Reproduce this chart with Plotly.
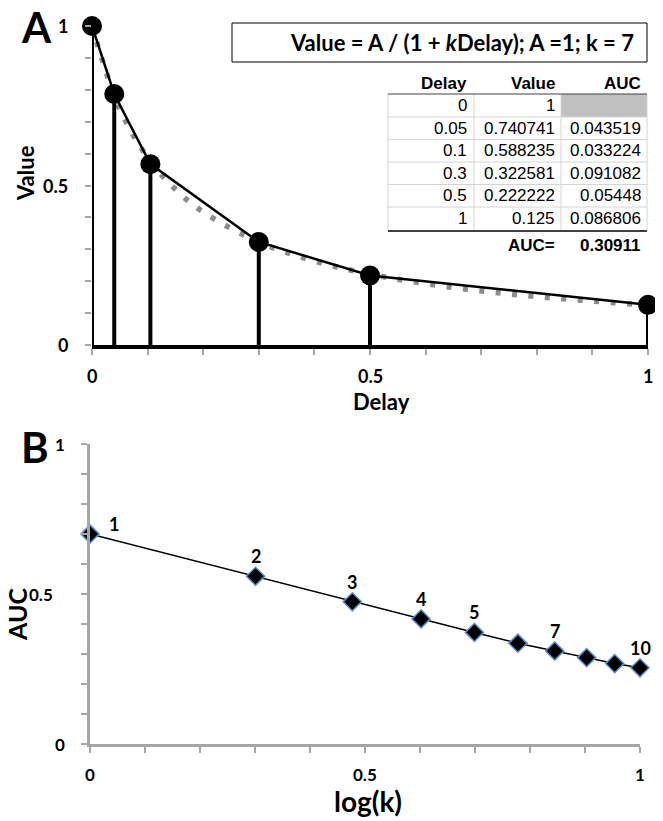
import plotly.graph_objects as go

W, H = 663, 821
OFF = 8  # page body margin


def fx(p):
    return (p - OFF) / W


def fy(p):
    return 1 - (p - OFF) / H


FONT = "Lato"
TFONT = "Liberation Sans"

# ---------------- Panel A data ----------------
delay_pts = [0, 0.04, 0.105, 0.3, 0.5, 1.0]
value_pts = [1.0, 0.787, 0.567, 0.323, 0.218, 0.126]

curve_x = [0, 0.05, 0.1, 0.15, 0.2, 0.3, 0.4, 0.5, 0.65, 0.8, 1.0]
curve_y = [1.0, 0.74, 0.588, 0.488, 0.417, 0.323, 0.263, 0.222, 0.18, 0.152, 0.125]

formula_text = "<b>Value = A / (1 + <i>k</i>Delay); A =1; k = 7</b>"

tbl_header = ["Delay", "Value", "AUC"]
tbl_delay = ["0", "0.05", "0.1", "0.3", "0.5", "1"]
tbl_value = ["1", "0.740741", "0.588235", "0.322581", "0.222222", "0.125"]
tbl_auc = ["", "0.043519", "0.033224", "0.091082", "0.05448", "0.086806"]
auc_label = "AUC="
auc_total = "0.30911"

tick_vals = [0, 0.5, 1]
tick_text = ["0", "0.5", "1"]

# ---------------- Panel B data ----------------
log_k = [0, 0.301, 0.477, 0.602, 0.699, 0.778, 0.845, 0.903, 0.954, 1.0]
auc_b = [0.70, 0.559, 0.474, 0.417, 0.372, 0.336, 0.310, 0.288, 0.268, 0.254]
k_labels = ["1", "2", "3", "4", "5", "", "7", "", "", "10"]

fig = go.Figure()

# gray dotted hyperbola
fig.add_trace(go.Scatter(
    x=curve_x, y=curve_y, mode="lines", line_shape="spline",
    line=dict(color="#8c8c8c", width=5.5, dash="5px,11.5px"),
    xaxis="x", yaxis="y", hoverinfo="skip", showlegend=False))

# stems (drop lines)
fig.add_trace(go.Scatter(
    x=delay_pts, y=value_pts, mode="markers",
    marker=dict(size=1, color="rgba(0,0,0,0)"),
    error_y=dict(type="data", symmetric=False, array=[0] * len(value_pts),
                 arrayminus=value_pts, thickness=4, width=0, color="black"),
    xaxis="x", yaxis="y", showlegend=False, hoverinfo="skip"))

# connecting line + markers
fig.add_trace(go.Scatter(
    x=delay_pts, y=value_pts, mode="lines+markers",
    line=dict(color="black", width=2.5),
    marker=dict(size=20, color="black"),
    xaxis="x", yaxis="y", showlegend=False, cliponaxis=False))

# Panel B line with diamonds
fig.add_trace(go.Scatter(
    x=log_k, y=auc_b, mode="lines+markers",
    line=dict(color="black", width=1.5),
    marker=dict(symbol="diamond", size=14, color="black",
                line=dict(color="#5b8fcf", width=1.5)),
    xaxis="x2", yaxis="y2", showlegend=False, cliponaxis=False))

GRAY = "#a6a6a6"

annotations = []
shapes = []


def pann(xp, yp, text, size, family=FONT, xanchor="center", angle=0):
    annotations.append(dict(x=fx(xp), y=fy(yp), xref="paper", yref="paper", text=text,
                            xanchor=xanchor, yanchor="middle", textangle=angle,
                            showarrow=False, font=dict(family=family, size=size, color="black")))


# tick labels (as annotations tied to the axes)
b_y_label_right = [67, 55, 67]
for v, t, bx in zip(tick_vals, tick_text, b_y_label_right):
    annotations.append(dict(x=v, xref="x", y=fy(376), yref="paper", text="<b>%s</b>" % t,
                            xanchor="center", yanchor="middle", showarrow=False,
                            font=dict(family=FONT, size=18, color="black")))
    annotations.append(dict(x=fx(70), xref="paper", y=v, yref="y", text="<b>%s</b>" % t,
                            xanchor="right", yanchor="middle", showarrow=False,
                            font=dict(family=FONT, size=18, color="black")))
    annotations.append(dict(x=v, xref="x2", y=fy(774), yref="paper", text="<b>%s</b>" % t,
                            xanchor="center", yanchor="middle", showarrow=False,
                            font=dict(family=FONT, size=17, color="black")))
    annotations.append(dict(x=fx(bx), xref="paper", y=v, yref="y2", text="<b>%s</b>" % t,
                            xanchor="right", yanchor="middle", showarrow=False,
                            font=dict(family=FONT, size=17, color="black")))

# point labels in B
for xi, yi, lab in zip(log_k, auc_b, k_labels):
    if not lab:
        continue
    first = lab == k_labels[0]
    annotations.append(dict(
        x=xi, y=yi, xref="x2", yref="y2", text="<b>%s</b>" % lab,
        xanchor="center", yanchor="middle",
        showarrow=False, font=dict(family=FONT, size=18, color="black"),
        xshift=24 if first else 0, yshift=10 if first else 20))

# panel letters
pann(36, 27, "<b>A</b>", 42)
pann(35, 447, "<b>B</b>", 42)

# axis titles
pann(25, 173, "<b>Value</b>", 22, angle=-90)
pann(381, 402, "<b>Delay</b>", 22)
pann(17, 615, "<b>AUC</b>", 25, angle=-90)
pann(368, 801, "<b>log(k)</b>", 28)

# formula box
shapes.append(dict(type="rect", xref="paper", yref="paper", x0=fx(232), x1=fx(647),
                   y0=fy(62), y1=fy(23), line=dict(color="black", width=1), fillcolor="white"))
pann(636, 43, formula_text, 22, xanchor="right")

# table
col_lines = [388, 474, 561, 647]
col_right = [469, 557, 643]
row_bounds = [94, 117, 139.5, 162, 184.5, 207, 231]

shapes.append(dict(type="rect", xref="paper", yref="paper", x0=fx(561), x1=fx(647),
                   y0=fy(117), y1=fy(94), line=dict(width=0), fillcolor="#c0c0c0", layer="below"))
for cx in col_lines:
    shapes.append(dict(type="line", xref="paper", yref="paper", x0=fx(cx), x1=fx(cx),
                       y0=fy(94), y1=fy(231), line=dict(color="#d4d4d4", width=1)))
for ry in row_bounds[1:-1]:
    shapes.append(dict(type="line", xref="paper", yref="paper", x0=fx(388), x1=fx(647),
                       y0=fy(ry), y1=fy(ry), line=dict(color="#d4d4d4", width=1)))
shapes.append(dict(type="line", xref="paper", yref="paper", x0=fx(388), x1=fx(647),
                   y0=fy(94), y1=fy(94), line=dict(color="#404040", width=1)))
shapes.append(dict(type="line", xref="paper", yref="paper", x0=fx(388), x1=fx(647),
                   y0=fy(231), y1=fy(231), line=dict(color="black", width=1.5)))

for j, htxt in enumerate(tbl_header):
    pann(col_right[j], 83, "<b>%s</b>" % htxt, 17, family=TFONT, xanchor="right")
for i in range(len(tbl_delay)):
    yc = (row_bounds[i] + row_bounds[i + 1]) / 2
    for j, col in enumerate([tbl_delay, tbl_value, tbl_auc]):
        if col[i] == "":
            continue
        pann(col_right[j], yc, col[i], 17, family=TFONT, xanchor="right")
pann(col_right[1], 245, "<b>%s</b>" % auc_label, 17, family=TFONT, xanchor="right")
pann(col_right[2], 245, "<b>%s</b>" % auc_total, 17, family=TFONT, xanchor="right")

common = dict(range=[0, 1], automargin=False, showgrid=False, zeroline=False,
              ticks="outside", ticklen=6, tickvals=tick_vals, showticklabels=False)

fig.update_layout(
    width=W, height=H, margin=dict(l=0, r=0, t=0, b=0, autoexpand=False),
    paper_bgcolor="white", plot_bgcolor="white", showlegend=False,
    xaxis=dict(common, domain=[fx(92), fx(648)], anchor="y",
               showline=True, linecolor="black", linewidth=4,
               tickwidth=1.5, tickcolor=GRAY,
               minor=dict(ticks="outside", dtick=0.1, tick0=0, ticklen=6, tickwidth=1.5, tickcolor=GRAY)),
    yaxis=dict(common, domain=[fy(345), fy(26)], anchor="x",
               showline=False,
               tickwidth=1.5, tickcolor=GRAY,
               minor=dict(ticks="outside", dtick=0.1, tick0=0, ticklen=6, tickwidth=1.5, tickcolor=GRAY)),
    xaxis2=dict(common, domain=[fx(90), fx(640)], anchor="y2",
                showline=True, linecolor=GRAY, linewidth=2.5,
                tickwidth=2, tickcolor=GRAY,
                minor=dict(ticks="outside", dtick=0.1, tick0=0, ticklen=6, tickwidth=2, tickcolor=GRAY)),
    yaxis2=dict(common, domain=[fy(744), fy(444)], anchor="x2",
                showline=True, linecolor=GRAY, linewidth=2.5,
                tickwidth=2, tickcolor=GRAY,
                minor=dict(ticks="outside", dtick=0.1, tick0=0, ticklen=6, tickwidth=2, tickcolor=GRAY)),
    annotations=annotations, shapes=shapes,
)

fig.write_html("out.html")
